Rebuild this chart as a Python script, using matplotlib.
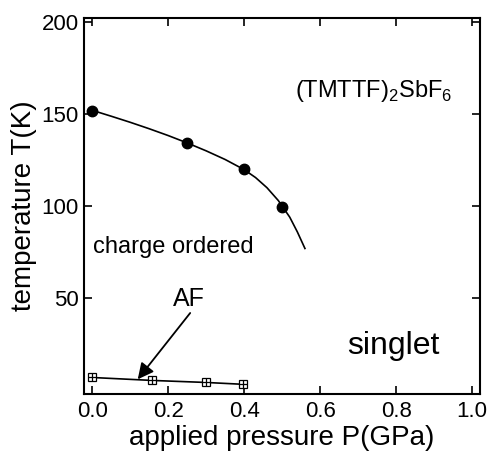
#!/usr/bin/env python3
# -*- coding: utf-8 -*-

import matplotlib
matplotlib.use('Agg')
import matplotlib.pyplot as plt

plt.rcParams['font.family'] = ['Liberation Sans', 'DejaVu Sans']
plt.rcParams['mathtext.fontset'] = 'custom'
plt.rcParams['mathtext.rm'] = 'Liberation Sans'

# charge order transition
co_p = [0.0, 0.25, 0.40, 0.50]
co_t = [151.5, 134, 120, 99.5]

# guide line through the charge order points
fit_p = [0.0, 0.05, 0.10, 0.15, 0.20, 0.25, 0.30, 0.35, 0.40,
         0.43, 0.46, 0.49, 0.52, 0.54, 0.56]
fit_t = [152, 148.8, 145.5, 142, 138.3, 134.3, 130, 125.3, 119.8,
         115.5, 110, 103, 94, 86, 77]

# antiferromagnetic / singlet boundary
af_p = [0.0, 0.158, 0.30, 0.397]
af_t = [7, 5.4, 4.3, 3.3]


fig, ax = plt.subplots(figsize=(4.95, 4.54), dpi=100)
fig.subplots_adjust(left=0.170, right=0.970, top=0.960, bottom=0.132)

ax.plot(fit_p, fit_t, color='black', lw=1.2)
ax.plot(co_p, co_t, 'o', color='black', ms=7.5)

ax.plot(af_p, af_t, color='black', lw=1.2)
ax.plot(af_p, af_t, 's', mfc='white', mec='black', ms=5.5, mew=0.9)
ax.plot(af_p, af_t, '+', color='black', ms=5.5, mew=0.9)

ax.annotate('', xy=(0.12, 6), xytext=(0.258, 42),
            arrowprops=dict(arrowstyle='-|>', color='black', lw=1.3,
                            mutation_scale=24, shrinkA=0, shrinkB=0))
ax.text(0.213, 45.6, 'AF', fontsize=18, ha='left', va='baseline')

ax.text(0.534, 159, r'(TMTTF)$_2$SbF$_6$', fontsize=17, ha='left', va='baseline')
ax.text(0.003, 74.5, 'charge ordered', fontsize=17, ha='left', va='baseline')
ax.text(0.671, 20, 'singlet', fontsize=23, ha='left', va='baseline')

ax.set_xlim(-0.021, 1.021)
ax.set_ylim(-2, 202)
ax.set_xticks([0.0, 0.2, 0.4, 0.6, 0.8, 1.0])
ax.set_yticks([50, 100, 150, 200])
ax.tick_params(direction='in', top=True, right=True, length=6, width=1.2,
               labelsize=16)
ax.tick_params(axis='y', pad=4)
ax.tick_params(axis='x', pad=5)
for side in ax.spines.values():
    side.set_linewidth(1.5)

ax.set_xlabel('applied pressure P(GPa)', fontsize=20, labelpad=2)
ax.set_ylabel('temperature T(K)', fontsize=20, labelpad=3)

plt.savefig('out.png', dpi=100)
plt.close()
